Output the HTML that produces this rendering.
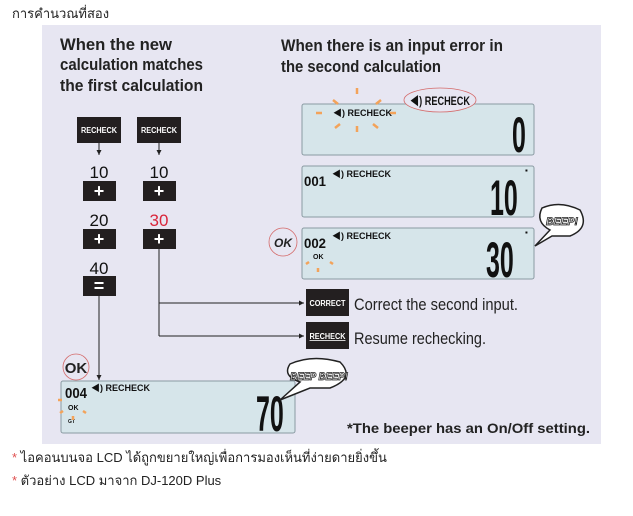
<!DOCTYPE html>
<html><head><meta charset="utf-8"><style>
html,body{margin:0;padding:0;background:#fff;}
svg{display:block;}
text{font-family:"Liberation Sans","Noto Sans CJK SC",sans-serif;}
.t{font-size:17px;fill:#222;font-weight:bold;}
.k{font-size:8px;font-weight:bold;fill:#fff;}
.n{font-size:17px;fill:#111;}
.r{font-size:9px;font-weight:bold;fill:#111;}
.lcd{fill:#d6e5ea;stroke:#8a9aa2;stroke-width:1;}
.big{font-size:50px;font-weight:bold;fill:#111;}
.ray{stroke:#f3a35a;stroke-width:2.5;}
</style></head><body>
<svg width="633" height="516" viewBox="0 0 633 516" xmlns="http://www.w3.org/2000/svg">
<defs><marker id="a" markerWidth="6" markerHeight="6" refX="5" refY="3" orient="auto"><path d="M0,0.5 L5,3 L0,5.5z" fill="#222"/></marker></defs>
<text x="12" y="18" style="font-size:13px;fill:#222">การคำนวณที่สอง</text>
<rect x="42" y="25" width="559" height="419" fill="#e7e6f2"/>
<text class="t" x="60" y="50" textLength="112" lengthAdjust="spacingAndGlyphs">When the new</text>
<text class="t" x="60" y="70" textLength="143" lengthAdjust="spacingAndGlyphs">calculation matches</text>
<text class="t" x="60" y="91" textLength="143" lengthAdjust="spacingAndGlyphs">the first calculation</text>
<text class="t" x="281" y="51" textLength="222" lengthAdjust="spacingAndGlyphs">When there is an input error in</text>
<text class="t" x="281" y="72" textLength="160" lengthAdjust="spacingAndGlyphs">the second calculation</text>
<rect x="77" y="117" width="44" height="26" fill="#231f20"/><text class="k" x="99" y="133" text-anchor="middle" textLength="36" lengthAdjust="spacingAndGlyphs">RECHECK</text>
<rect x="137" y="117" width="44" height="26" fill="#231f20"/><text class="k" x="159" y="133" text-anchor="middle" textLength="36" lengthAdjust="spacingAndGlyphs">RECHECK</text>
<line x1="99" y1="143" x2="99" y2="155" stroke="#222" marker-end="url(#a)"/>
<line x1="159" y1="143" x2="159" y2="155" stroke="#222" marker-end="url(#a)"/>
<text class="n" x="99" y="178" text-anchor="middle">10</text><text class="n" x="159" y="178" text-anchor="middle">10</text>
<rect x="83" y="181" width="33" height="20" fill="#231f20"/><rect x="143" y="181" width="33" height="20" fill="#231f20"/>
<text x="99" y="197" text-anchor="middle" style="font-size:18px;font-weight:bold;fill:#fff">+</text><text x="159" y="197" text-anchor="middle" style="font-size:18px;font-weight:bold;fill:#fff">+</text>
<text class="n" x="99" y="226" text-anchor="middle">20</text><text class="n" x="159" y="226" text-anchor="middle" style="fill:#d9263b">30</text>
<rect x="83" y="229" width="33" height="20" fill="#231f20"/><rect x="143" y="229" width="33" height="20" fill="#231f20"/>
<text x="99" y="245" text-anchor="middle" style="font-size:18px;font-weight:bold;fill:#fff">+</text><text x="159" y="245" text-anchor="middle" style="font-size:18px;font-weight:bold;fill:#fff">+</text>
<text class="n" x="99" y="274" text-anchor="middle">40</text>
<rect x="83" y="276" width="33" height="20" fill="#231f20"/>
<text x="99" y="292" text-anchor="middle" style="font-size:18px;font-weight:bold;fill:#fff">=</text>
<line x1="99" y1="296" x2="99" y2="380" stroke="#222" marker-end="url(#a)"/>
<line x1="159" y1="249" x2="159" y2="336" stroke="#222"/>
<line x1="159" y1="303" x2="304" y2="303" stroke="#222" marker-end="url(#a)"/>
<line x1="159" y1="336" x2="304" y2="336" stroke="#222" marker-end="url(#a)"/>
<rect x="306" y="289" width="43" height="27" fill="#231f20"/><text class="k" x="327.5" y="306" text-anchor="middle" textLength="36" lengthAdjust="spacingAndGlyphs">CORRECT</text>
<rect x="306" y="322" width="43" height="27" fill="#231f20"/><text class="k" x="327.5" y="339" text-anchor="middle" textLength="36" lengthAdjust="spacingAndGlyphs" text-decoration="underline">RECHECK</text>
<text class="t" x="354" y="310" textLength="164" lengthAdjust="spacingAndGlyphs" style="font-weight:normal">Correct the second input.</text>
<text class="t" x="354" y="344" textLength="132" lengthAdjust="spacingAndGlyphs" style="font-weight:normal">Resume rechecking.</text>
<rect class="lcd" x="302" y="104" width="232" height="51" rx="2"/>
<rect class="lcd" x="302" y="166" width="232" height="51" rx="2"/>
<rect class="lcd" x="302" y="228" width="232" height="51" rx="2"/>
<g class="ray"><line x1="333" y1="100" x2="338" y2="104"/><line x1="357" y1="88" x2="357" y2="94"/><line x1="381" y1="100" x2="376" y2="104"/><line x1="316" y1="113" x2="322" y2="113"/><line x1="390" y1="113" x2="396" y2="113"/><line x1="335" y1="128" x2="340" y2="124"/><line x1="357" y1="132" x2="357" y2="126"/><line x1="378" y1="128" x2="373" y2="124"/></g>
<text class="r" x="333" y="116">◀) RECHECK</text>
<ellipse cx="440" cy="100" rx="36" ry="12" fill="#e7e6f2" stroke="#d46a6a" stroke-width="0.8"/>
<text x="410" y="105" style="font-size:12px;font-weight:bold;fill:#111" textLength="60" lengthAdjust="spacingAndGlyphs">◀) RECHECK</text>
<text class="big" x="512" y="152" transform="translate(512 152) scale(0.5 1) translate(-512 -152)">0</text>
<text x="304" y="186" style="font-size:14px;font-weight:bold;fill:#111" textLength="22" lengthAdjust="spacingAndGlyphs">001</text>
<text class="r" x="332" y="177">◀) RECHECK</text>
<text class="big" x="490" y="215" transform="translate(490 215) scale(0.5 1) translate(-490 -215)">10</text>
<text x="525" y="173" style="font-size:8px;fill:#111">▪</text>
<text x="304" y="248" style="font-size:14px;font-weight:bold;fill:#111" textLength="22" lengthAdjust="spacingAndGlyphs">002</text>
<text class="r" x="332" y="239">◀) RECHECK</text>
<text x="313" y="259" style="font-size:7px;font-weight:bold;fill:#111">OK</text>
<text class="big" x="486" y="277" transform="translate(486 277) scale(0.5 1) translate(-486 -277)">30</text>
<text x="525" y="235" style="font-size:8px;fill:#111">▪</text>
<circle cx="283" cy="242" r="14" fill="#e7e6f2" stroke="#d46a6a" stroke-width="0.8"/>
<text x="283" y="247" text-anchor="middle" style="font-size:12px;font-weight:bold;font-style:italic;fill:#222">OK</text>
<g class="ray"><line x1="309" y1="262" x2="306" y2="264"/><line x1="318" y1="268" x2="318" y2="272"/><line x1="330" y1="262" x2="333" y2="264"/></g>
<path d="M535,246 L550,230 Q535,222 542,208 Q560,200 580,210 Q590,228 570,236 L552,236 Z" fill="#fff" stroke="#222" stroke-width="1.5"/>
<text x="546" y="225" style="font-size:11px;font-weight:bold;font-style:italic;fill:#fff;stroke:#222;stroke-width:0.8" textLength="32" lengthAdjust="spacingAndGlyphs">BEEP!</text>
<rect class="lcd" x="61" y="381" width="234" height="52" rx="2"/>
<circle cx="76" cy="367" r="13" fill="#e7e6f2" stroke="#d46a6a" stroke-width="0.8"/>
<text x="76" y="373" text-anchor="middle" style="font-size:15px;font-weight:bold;fill:#222">OK</text>
<text x="65" y="398" style="font-size:15px;font-weight:bold;fill:#111" textLength="22" lengthAdjust="spacingAndGlyphs">004</text>
<text class="r" x="91" y="391">◀) RECHECK</text>
<text x="68" y="410" style="font-size:7px;font-weight:bold;fill:#111">OK</text>
<text x="68" y="423" style="font-size:5px;font-weight:bold;fill:#111">GT</text>
<g class="ray"><line x1="58" y1="400" x2="62" y2="400"/><line x1="60" y1="413" x2="63" y2="411"/><line x1="86" y1="413" x2="83" y2="411"/><line x1="73" y1="420" x2="73" y2="416"/></g>
<text class="big" x="256" y="431" transform="translate(256 431) scale(0.5 1) translate(-256 -431)">70</text>
<path d="M280,400 L300,382 Q282,376 290,364 Q312,354 340,362 Q356,378 330,388 L310,388 Z" fill="#fff" stroke="#222" stroke-width="1.5"/>
<text x="290" y="380" style="font-size:11px;font-weight:bold;font-style:italic;fill:#fff;stroke:#222;stroke-width:0.8" textLength="58" lengthAdjust="spacingAndGlyphs">BEEP BEEP!</text>
<text x="347" y="433" style="font-size:14px;font-weight:bold;fill:#222" textLength="243" lengthAdjust="spacingAndGlyphs">*The beeper has an On/Off setting.</text>
<text x="12" y="462" style="font-size:13px;fill:#222"><tspan fill="#e05050">* </tspan>ไอคอนบนจอ LCD ได้ถูกขยายใหญ่เพื่อการมองเห็นที่ง่ายดายยิ่งขึ้น</text>
<text x="12" y="485" style="font-size:13px;fill:#222"><tspan fill="#e05050">* </tspan>ตัวอย่าง LCD มาจาก DJ-120D Plus</text>
</svg>
</body></html>
